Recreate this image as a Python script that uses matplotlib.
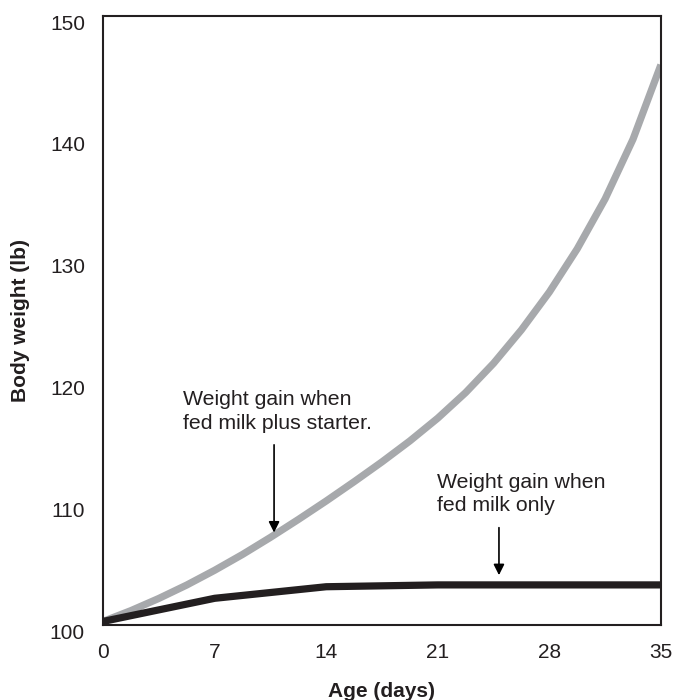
import matplotlib.pyplot as plt
import matplotlib.transforms as mtransforms

plt.rcParams['font.family'] = ['Liberation Sans', 'DejaVu Sans']

# Umur (hari) dan berat badan (lb)
umur_starter = [0, 1.75, 3.5, 5.25, 7, 8.75, 10.5, 12.25, 14, 15.75, 17.5,
                19.25, 21, 22.75, 24.5, 26.25, 28, 29.75, 31.5, 33.25, 35]
berat_starter = [100.3, 101.19, 102.19, 103.29, 104.5, 105.8, 107.2, 108.67,
                 110.19, 111.77, 113.4, 115.12, 116.99, 119.09, 121.49, 124.24,
                 127.34, 130.89, 134.99, 139.89, 146.0]

umur_susu = [0, 7, 14, 21, 28, 35]
berat_susu = [100.3, 102.2, 103.15, 103.3, 103.3, 103.3]

xticks = [0, 7, 14, 21, 28, 35]
yticks = [100, 110, 120, 130, 140, 150]

warna_garis = '#231f20'
warna_abu = '#a7a9ac'

fig = plt.figure(figsize=(6.87, 7.0), dpi=100)
ax = fig.add_axes([0.150, 0.107, 0.812, 0.870])

ax.plot(umur_starter, berat_starter, color=warna_abu, lw=5.2,
        solid_capstyle='butt', solid_joinstyle='round')
ax.plot(umur_susu, berat_susu, color=warna_garis, lw=5.2,
        solid_capstyle='butt', solid_joinstyle='round')

ax.set_xlim(0, 35)
ax.set_ylim(100, 150)
ax.set_xticks(xticks)
ax.set_yticks(yticks)
ax.tick_params(length=0, labelsize=15, pad=13, colors=warna_garis)
geser = mtransforms.ScaledTranslation(0, -0.06, fig.dpi_scale_trans)
for lbl in ax.get_yticklabels():
    lbl.set_transform(lbl.get_transform() + geser)
for s in ax.spines.values():
    s.set_linewidth(1.5)
    s.set_color(warna_garis)

ax.set_xlabel('Age (days)', fontsize=15, fontweight='bold', labelpad=14,
              color=warna_garis)
ax.set_ylabel('Body weight (lb)', fontsize=15, fontweight='bold', labelpad=14,
              color=warna_garis)

# Keterangan dan panah
ax.text(5.0, 119.3, 'Weight gain when\nfed milk plus starter.', fontsize=15.3,
        va='top', ha='left', color=warna_garis, linespacing=1.3)
ax.annotate('', xy=(10.73, 107.6), xytext=(10.73, 114.8),
            arrowprops=dict(arrowstyle='-|>', color='black', lw=1.2,
                            mutation_scale=16, shrinkA=0, shrinkB=0))

ax.text(20.95, 112.5, 'Weight gain when\nfed milk only', fontsize=15.3,
        va='top', ha='left', color=warna_garis, linespacing=1.3)
ax.annotate('', xy=(24.84, 104.1), xytext=(24.84, 108.0),
            arrowprops=dict(arrowstyle='-|>', color='black', lw=1.2,
                            mutation_scale=16, shrinkA=0, shrinkB=0))

plt.savefig('out.png', dpi=100)
